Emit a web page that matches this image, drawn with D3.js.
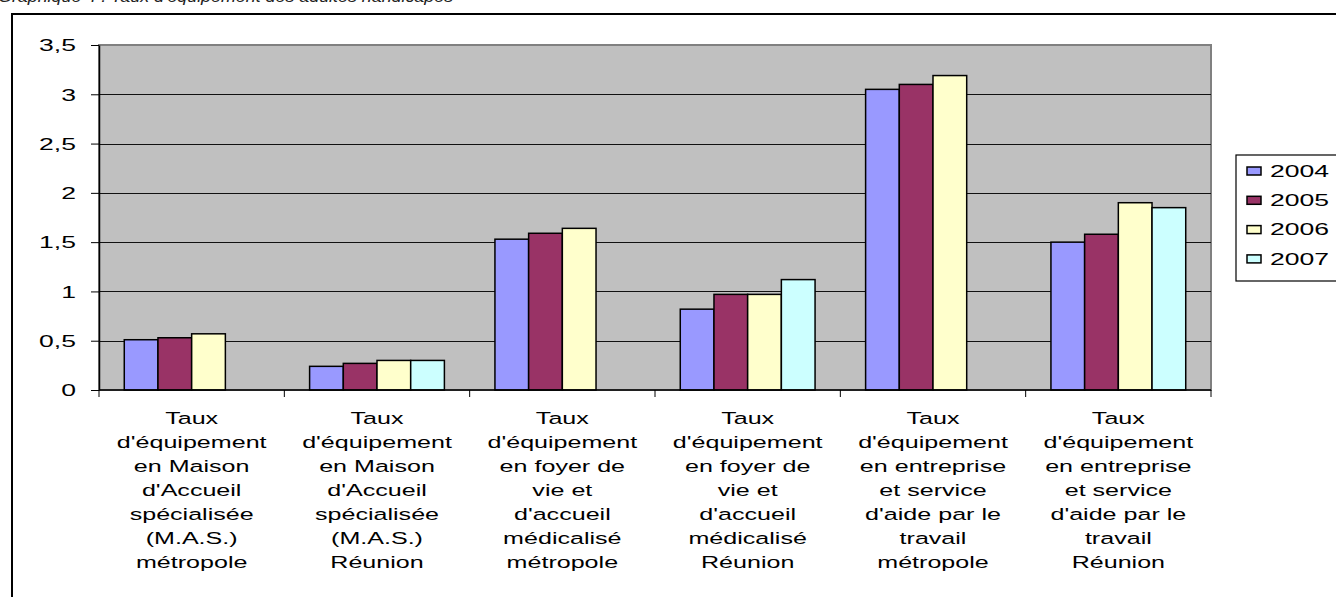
<!DOCTYPE html>
<html>
<head>
<meta charset="utf-8">
<script src="https://cdn.jsdelivr.net/npm/d3@7"></script>
<style>
  body { margin: 0; background: #fff; }
  svg { display: block; font-family: "Liberation Sans", Arial, sans-serif; }
</style>
</head>
<body>
<div id="chart"></div>
<script>
////////// Data /////////////
const categories = [
  ["Taux", "d'équipement", "en Maison", "d'Accueil", "spécialisée", "(M.A.S.)", "métropole"],
  ["Taux", "d'équipement", "en Maison", "d'Accueil", "spécialisée", "(M.A.S.)", "Réunion"],
  ["Taux", "d'équipement", "en foyer de", "vie et", "d'accueil", "médicalisé", "métropole"],
  ["Taux", "d'équipement", "en foyer de", "vie et", "d'accueil", "médicalisé", "Réunion"],
  ["Taux", "d'équipement", "en entreprise", "et service", "d'aide par le", "travail", "métropole"],
  ["Taux", "d'équipement", "en entreprise", "et service", "d'aide par le", "travail", "Réunion"]
];
const years = ["2004", "2005", "2006", "2007"];
const v2004 = [0.51, 0.24, 1.53, 0.82, 3.05, 1.50];
const v2005 = [0.53, 0.27, 1.59, 0.97, 3.10, 1.58];
const v2006 = [0.57, 0.30, 1.64, 0.97, 3.19, 1.90];
const v2007 = [null, 0.30, null, 1.12, null, 1.85];
const yTicks = [0, 0.5, 1, 1.5, 2, 2.5, 3, 3.5];
const tickLabels = ["0", "0,5", "1", "1,5", "2", "2,5", "3", "3,5"];
const colors = ["#9999FF", "#993366", "#FFFFCC", "#CCFFFF"];
const titleText = "Graphique 4 : Taux d'équipement des adultes handicapés";

const series = [v2004, v2005, v2006, v2007];
const W = 1336, H = 597;
const SX = 1.66; // picture is stretched sideways
const plot = { left: 99, right: 1211, top: 45, bottom: 390 };

const svg = d3.select("#chart").append("svg")
  .attr("width", W).attr("height", H);

// title, mostly cut off at the top (as in the scan)
svg.append("text")
  .attr("transform", `translate(-2,2) scale(1.05,1)`)
  .attr("font-style", "italic")
  .attr("font-size", 17)
  .attr("fill", "#222")
  .text(titleText);

// outer frame
svg.append("rect")
  .attr("x", 12).attr("y", 14)
  .attr("width", W).attr("height", H)
  .attr("fill", "none").attr("stroke", "#000").attr("stroke-width", 2);

const x0 = d3.scaleBand()
  .domain(d3.range(categories.length))
  .range([plot.left, plot.right]);
const barW = x0.bandwidth() / 5.5;
const x1 = d3.scaleBand()
  .domain(years)
  .range([0.75 * barW, 4.75 * barW]);
const y = d3.scaleLinear().domain([0, 3.5]).range([plot.bottom, plot.top]);

// plot area
svg.append("rect")
  .attr("x", plot.left).attr("y", plot.top)
  .attr("width", plot.right - plot.left).attr("height", plot.bottom - plot.top)
  .attr("fill", "#C0C0C0").attr("stroke", "#808080").attr("stroke-width", 2);

// gridlines
svg.append("g")
  .selectAll("line")
  .data(yTicks.filter(t => t > 0 && t < 3.5))
  .enter().append("line")
  .attr("x1", plot.left).attr("x2", plot.right)
  .attr("y1", d => Math.round(y(d)) + 0.5).attr("y2", d => Math.round(y(d)) + 0.5)
  .attr("stroke", "#111").attr("stroke-width", 1.2);

// bars
const groups = svg.append("g")
  .selectAll("g")
  .data(categories.map((c, i) => i))
  .enter().append("g")
  .attr("transform", i => `translate(${x0(i)},0)`);

groups.selectAll("rect")
  .data(i => years.map((yr, k) => ({ yr, k, v: series[k][i] })).filter(d => d.v != null))
  .enter().append("rect")
  .attr("x", d => x1(d.yr))
  .attr("y", d => y(d.v))
  .attr("width", x1.bandwidth())
  .attr("height", d => y(0) - y(d.v))
  .attr("fill", d => colors[d.k])
  .attr("stroke", "#000").attr("stroke-width", 1.5);

// y axis
const yAxis = svg.append("g")
  .attr("transform", `translate(${plot.left},0)`)
  .call(d3.axisLeft(y).tickValues(yTicks).tickFormat((d, i) => tickLabels[i]).tickSize(8).tickSizeOuter(0));
yAxis.select(".domain").attr("stroke", "#000").attr("stroke-width", 1.5);
yAxis.selectAll(".tick line").attr("stroke", "#000");
yAxis.selectAll(".tick text")
  .attr("font-size", 16).attr("fill", "#000")
  .attr("font-family", "Liberation Sans, Arial, sans-serif")
  .attr("x", -23 / SX)
  .attr("dy", "0.36em")
  .attr("transform", `scale(${SX},1)`);

// x axis
const xAxis = svg.append("g")
  .attr("transform", `translate(0,${plot.bottom})`);
xAxis.append("line")
  .attr("x1", plot.left).attr("x2", plot.right)
  .attr("stroke", "#000").attr("stroke-width", 1.5);
xAxis.selectAll(".tk")
  .data(d3.range(categories.length + 1))
  .enter().append("line")
  .attr("x1", i => i < categories.length ? x0(i) : plot.right)
  .attr("x2", i => i < categories.length ? x0(i) : plot.right)
  .attr("y1", 0).attr("y2", 7)
  .attr("stroke", "#000");

const labels = svg.append("g")
  .selectAll("text")
  .data(categories)
  .enter().append("text")
  .attr("transform", (d, i) => `translate(${x0(i) + x0.bandwidth() / 2},424) scale(1.52,1)`)
  .attr("text-anchor", "middle")
  .attr("font-size", 16.5);
labels.selectAll("tspan")
  .data(d => d)
  .enter().append("tspan")
  .attr("x", 0)
  .attr("y", (d, j) => j * 24)
  .text(d => d);

// legend
const legend = svg.append("g");
legend.append("rect")
  .attr("x", 1236).attr("y", 155)
  .attr("width", 120).attr("height", 126)
  .attr("fill", "#fff").attr("stroke", "#000").attr("stroke-width", 1.2);
const items = legend.selectAll(".item")
  .data(years)
  .enter().append("g")
  .attr("transform", (d, i) => `translate(1247,${171 + i * 29.3})`);
items.append("rect")
  .attr("x", 0).attr("y", -4)
  .attr("width", 14).attr("height", 8)
  .attr("fill", (d, i) => colors[i])
  .attr("stroke", "#000").attr("stroke-width", 1.5);
items.append("text")
  .attr("transform", `translate(23,0) scale(${SX},1)`)
  .attr("dy", "0.36em")
  .attr("font-size", 16)
  .text(d => d);
</script>
</body>
</html>
